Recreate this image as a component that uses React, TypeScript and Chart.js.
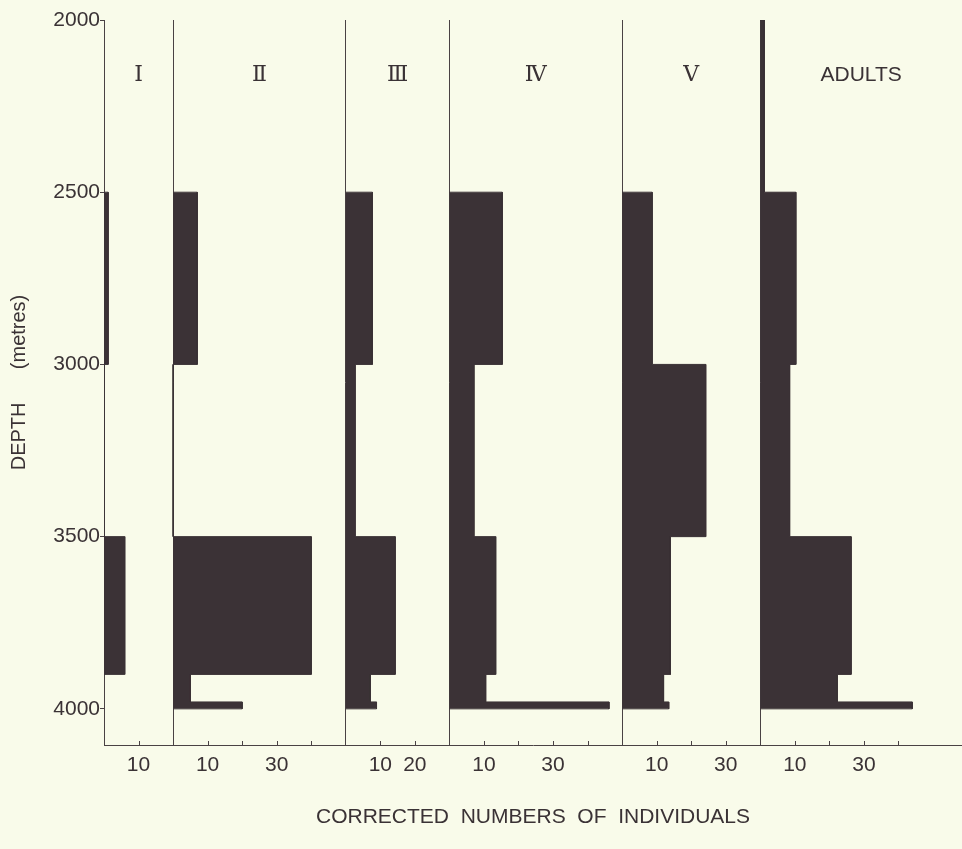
import { useEffect, useRef } from 'react';
import { Chart, registerables } from 'chart.js';

Chart.register(...registerables);

// Depth intervals (metres) shared by all stages
const depthBins: [number, number][] = [
  [2000, 2500],
  [2500, 3000],
  [3000, 3500],
  [3500, 3900],
  [3900, 3980],
  [3980, 4000],
];

// Corrected numbers of individuals per depth interval
const stageI = [0, 1.2, 0, 6, 0, 0];
const stageII = [0, 7, 0, 40, 5, 20];
const stageIII = [0, 7.7, 2.7, 14.3, 7.1, 8.9];
const stageIV = [0, 15.3, 7.1, 13.4, 10.5, 46.2];
const stageV = [0, 8.7, 24.2, 14, 12, 13.5];
const adults = [1.2, 10.3, 8.5, 26.3, 22.3, 44];

const stageNames = ['Ⅰ', 'Ⅱ', 'Ⅲ', 'Ⅳ', 'Ⅴ', 'ADULTS'];
const panelOffsets = [0, 20, 70, 100, 150, 190];
const panelTicks = [[10], [10, 20, 30, 40], [10, 20], [10, 20, 30, 40], [10, 20, 30], [10, 20, 30, 40]];
const panelTickLabels = [[10], [10, 30], [10, 20], [10, 30], [10, 30], [10, 30]];
const depthTicks = [2000, 2500, 3000, 3500, 4000];

const xMax = 248.4;
const yMin = 2000;
const yMax = 4105;

const BG = '#f9fbea';
const BAR = '#3b3236';
const LINE = '#4a4244';
const TEXT = '#3a3235';
const FONT = '"Liberation Sans", Arial, sans-serif';

const allStages = [stageI, stageII, stageIII, stageIV, stageV, adults];

function profile(values: number[], offset: number) {
  const first = values.findIndex((v) => v > 0);
  const last = values.length - 1 - [...values].reverse().findIndex((v) => v > 0);
  const pts: { x: number; y: number }[] = [{ x: offset, y: depthBins[first][0] }];
  for (let i = first; i <= last; i++) {
    pts.push({ x: offset + values[i], y: depthBins[i][0] });
    pts.push({ x: offset + values[i], y: depthBins[i][1] });
  }
  pts.push({ x: offset, y: depthBins[last][1] });
  return pts;
}

const dividerValues = panelOffsets.slice(1);
const labelMap = new Map<number, string>();
panelTickLabels.forEach((arr, i) => arr.forEach((v) => labelMap.set(panelOffsets[i] + v, String(v))));
const minorTickValues: number[] = [];
panelTicks.forEach((arr, i) => arr.forEach((v) => minorTickValues.push(panelOffsets[i] + v)));
const xTickValues = Array.from(new Set([...dividerValues, ...labelMap.keys()])).sort((a, b) => a - b);

const panelPlugin = {
  id: 'panelDecor',
  afterDatasetsDraw(chart: any) {
    const { ctx, chartArea, scales } = chart;
    const x = scales.x;
    ctx.save();
    ctx.fillStyle = TEXT;
    ctx.textAlign = 'center';
    ctx.textBaseline = 'middle';
    stageNames.forEach((name, i) => {
      const a = panelOffsets[i];
      const b = i < panelOffsets.length - 1 ? panelOffsets[i + 1] : x.max;
      ctx.font =
        i === stageNames.length - 1
          ? `21px ${FONT}`
          : '22px "DejaVu Serif", "Liberation Serif", serif';
      ctx.fillText(name, x.getPixelForValue((a + b) / 2), chartArea.top + 55);
    });
    ctx.strokeStyle = LINE;
    ctx.lineWidth = 1;
    ctx.beginPath();
    minorTickValues.forEach((v) => {
      const px = Math.round(x.getPixelForValue(v)) + 0.5;
      ctx.moveTo(px, chartArea.bottom);
      ctx.lineTo(px, chartArea.bottom - 4);
    });
    ctx.stroke();
    ctx.restore();
  },
};

export default function App() {
  const ref = useRef<HTMLCanvasElement>(null);
  useEffect(() => {
    if (!ref.current) return;
    const chart = new Chart(ref.current, {
      type: 'line',
      data: {
        datasets: allStages.map((vals, i) => ({
          label: stageNames[i],
          data: profile(vals, panelOffsets[i]),
          borderColor: BAR,
          borderWidth: 1,
          backgroundColor: BAR,
          pointRadius: 0,
          tension: 0,
          fill: { value: panelOffsets[i] },
        })),
      },
      options: {
        animation: false,
        responsive: false,
        indexAxis: 'y',
        layout: { padding: { top: 20, left: 0, right: 0, bottom: 0 } },
        plugins: { legend: { display: false }, tooltip: { enabled: false } },
        scales: {
          x: {
            type: 'linear',
            min: 0,
            max: xMax,
            afterBuildTicks: (s: any) => {
              s.ticks = xTickValues.map((v) => ({ value: v }));
            },
            afterFit: (s: any) => {
              s.height = 104;
            },
            ticks: {
              autoSkip: false,
              maxRotation: 0,
              padding: 8,
              color: TEXT,
              font: { family: FONT, size: 21 },
              callback: (v: any) => labelMap.get(Number(v)) ?? '',
            },
            grid: {
              drawTicks: false,
              lineWidth: 1,
              color: (c: any) => (c.tick && dividerValues.includes(c.tick.value) ? LINE : 'rgba(0,0,0,0)'),
            },
            border: { color: LINE, width: 1 },
            title: {
              display: true,
              text: 'CORRECTED  NUMBERS  OF  INDIVIDUALS',
              color: TEXT,
              font: { family: FONT, size: 21 },
              padding: { top: 0, bottom: 19 },
            },
          },
          y: {
            type: 'linear',
            reverse: true,
            min: yMin,
            max: yMax,
            afterBuildTicks: (s: any) => {
              s.ticks = depthTicks.map((v) => ({ value: v }));
            },
            afterFit: (s: any) => {
              s.width = 104;
            },
            ticks: {
              padding: 0,
              color: TEXT,
              font: { family: FONT, size: 21 },
              callback: (v: any) => String(v),
            },
            grid: { drawOnChartArea: false, tickLength: 4, color: LINE },
            border: { color: LINE, width: 1 },
            title: {
              display: true,
              text: 'DEPTH      (metres)',
              color: TEXT,
              font: { family: FONT, size: 20 },
              padding: { top: 7, bottom: 0 },
            },
          },
        },
      } as any,
      plugins: [panelPlugin],
    });
    return () => chart.destroy();
  }, []);

  return (
    <div
      style={{
        position: 'absolute',
        left: 0,
        top: 0,
        width: 962,
        height: 849,
        background: BG,
        overflow: 'hidden',
      }}
    >
      <canvas ref={ref} width={962} height={849} style={{ display: 'block', width: 962, height: 849 }} />
    </div>
  );
}
